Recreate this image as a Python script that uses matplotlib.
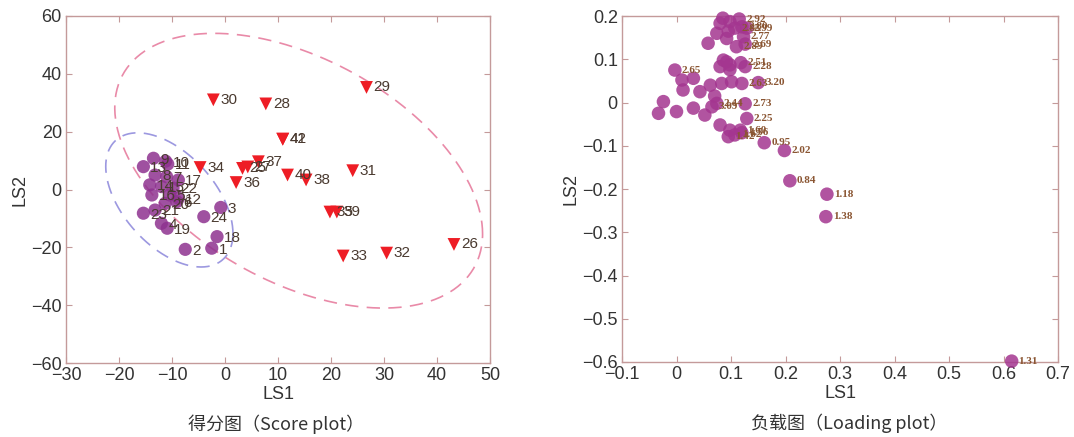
import numpy as np
import matplotlib
matplotlib.use('Agg')
import matplotlib.pyplot as plt
from matplotlib.ticker import FuncFormatter

plt.rcParams['font.family'] = ['Liberation Sans', 'Noto Sans CJK SC', 'DejaVu Sans']
plt.rcParams['axes.unicode_minus'] = True

# 得分图数据：样品 1-24（圆点）
score_c_lab = ['1', '2', '3', '4', '5', '6', '7', '8', '9', '10', '11', '12',
               '13', '14', '15', '16', '17', '18', '19', '20', '21', '22', '23', '24']
score_c_x = [-2.5, -7.5, -0.8, -12.0, -10.4, -9.1, -11.0, -13.2, -13.5, -11.2, -10.8, -8.8,
             -15.4, -14.2, -12.0, -13.8, -8.8, -1.5, -10.9, -11.3, -13.2, -9.8, -15.4, -4.0]
score_c_y = [-20.3, -20.7, -6.2, -11.7, -1.9, -4.2, 4.4, 5.0, 10.8, 9.8, 8.8, -3.0,
             7.9, 1.6, 1.0, -1.9, 3.3, -16.3, -13.4, -4.8, -7.1, 0.5, -8.2, -9.4]

# 得分图数据：样品 25-42（三角）
score_t_lab = ['25', '26', '27', '28', '29', '30', '31', '32', '33',
               '34', '35', '36', '37', '38', '39', '40', '41', '42']
score_t_x = [3.3, 43.2, 4.3, 7.7, 26.7, -2.2, 24.1, 30.5, 22.3,
             -4.7, 19.8, 2.1, 6.3, 15.3, 21.1, 11.8, 10.9, 10.9]
score_t_y = [7.3, -19.0, 7.8, 29.6, 35.3, 31.0, 6.5, -22.0, -23.0,
             7.6, -7.8, 2.4, 9.6, 3.3, -7.8, 5.0, 17.4, 17.4]

# 置信椭圆参数 (中心x, 中心y, 半宽, 半高, 相关系数)
ell_red = (13.9, 6.5, 34.7, 47.5, -0.46)
ell_blue = (-10.5, -3.6, 12.0, 23.2, -0.50)

# 负载图数据
load_x = [0.615, 0.274, 0.276, 0.208, 0.198, 0.161, 0.129, 0.126, 0.150, 0.120,
          0.101, 0.083, 0.126, 0.080, 0.092, 0.098, -0.003, 0.010, 0.031, 0.012,
          0.043, -0.024, -0.033, 0.000, 0.031, 0.052, 0.065, 0.074, 0.080, 0.098,
          0.107, 0.095, 0.117, 0.120, 0.080, 0.098, 0.107, 0.074, 0.058, 0.092,
          0.123, 0.110, 0.086, 0.098, 0.118, 0.115, 0.120, 0.095, 0.129, 0.085,
          0.126, 0.062, 0.070]
load_y = [-0.598, -0.264, -0.212, -0.181, -0.111, -0.093, -0.037, -0.003, 0.046, 0.044,
          0.048, 0.044, 0.083, 0.083, 0.094, 0.076, 0.075, 0.052, 0.056, 0.029,
          0.025, 0.002, -0.025, -0.021, -0.013, -0.029, -0.010, -0.002, -0.052, -0.064,
          -0.075, -0.079, -0.064, -0.070, 0.183, 0.187, 0.172, 0.160, 0.137, 0.148,
          0.152, 0.129, 0.098, 0.087, 0.092, 0.193, 0.175, 0.165, 0.172, 0.195,
          0.135, 0.040, 0.015]
load_lab = ['1.31', '1.38', '1.18', '0.84', '2.02', '0.95', '2.25', '2.73', '3.20', '2.63',
            '', '', '2.28', '', '', '', '2.65', '', '', '',
            '', '', '', '', '', '', '3.09', '2.44', '', '',
            '1.62', '1.42', '1.60', '1.56', '', '', '2.85', '', '', '',
            '2.77', '2.89', '', '', '2.51', '2.92', '2.80', '', '2.99', '',
            '2.69', '', '']

frame_col = '#c49a9a'
tick_col = '#333333'


def ellipse_xy(cx, cy, sx, sy, rho):
    t = np.linspace(0, 2 * np.pi, 300)
    x = cx + sx * np.cos(t)
    y = cy + sy * (rho * np.cos(t) + np.sqrt(1 - rho ** 2) * np.sin(t))
    return x, y


def style_axes(ax):
    for sp in ax.spines.values():
        sp.set_color(frame_col)
        sp.set_linewidth(1.0)
    ax.tick_params(direction='in', top=True, right=True, length=4,
                   color=frame_col, labelcolor=tick_col, labelsize=13, pad=3)


fig = plt.figure(figsize=(10.74, 4.37), dpi=100)

# ---- 得分图 ----
ax1 = fig.add_axes([66 / 1074, 1 - 363 / 437, 424 / 1074, 347 / 437])
ex, ey = ellipse_xy(*ell_red)
ax1.plot(ex, ey, color='#e98aa8', lw=1.2, dashes=(8, 5))
ex, ey = ellipse_xy(*ell_blue)
ax1.plot(ex, ey, color='#9c98e0', lw=1.2, dashes=(8, 5))

ax1.scatter(score_c_x, score_c_y, s=90, marker='o', color='#8e3290', alpha=0.85,
            edgecolors='none', zorder=3)
ax1.scatter(score_t_x, score_t_y, s=85, marker='v', color='#ee1d25',
            edgecolors='none', zorder=3)
for lab, x, y in zip(score_c_lab, score_c_x, score_c_y):
    ax1.annotate(lab, (x, y), xytext=(5, -1), textcoords='offset points',
                 va='center', ha='left', fontsize=11, color='#4a3a30', zorder=4)
for lab, x, y in zip(score_t_lab, score_t_x, score_t_y):
    ax1.annotate(lab, (x, y), xytext=(5, 0), textcoords='offset points',
                 va='center', ha='left', fontsize=11, color='#4a3a30', zorder=4)

ax1.set_xlim(-30, 50)
ax1.set_ylim(-60, 60)
ax1.set_xticks(np.arange(-30, 51, 10))
ax1.set_yticks(np.arange(-60, 61, 20))
style_axes(ax1)
ax1.set_xlabel('LS1', fontsize=13, color=tick_col, labelpad=1)
ax1.set_ylabel('LS2', fontsize=13, color=tick_col, labelpad=2)

# ---- 负载图 ----
ax2 = fig.add_axes([622 / 1074, 1 - 362 / 437, 436 / 1074, 346 / 437])
ax2.scatter(load_x, load_y, s=95, marker='o', color='#a43690', alpha=0.85,
            edgecolors='none', zorder=3, clip_on=False)
for lab, x, y in zip(load_lab, load_x, load_y):
    if lab:
        ax2.annotate(lab, (x, y), xytext=(5, 0), textcoords='offset points',
                     va='center', ha='left', fontsize=8, fontweight='bold',
                     family=['Liberation Serif', 'DejaVu Serif'], color='#8a5532',
                     zorder=4, annotation_clip=False)

ax2.set_xlim(-0.1, 0.7)
ax2.set_ylim(-0.6, 0.2)
ax2.set_xticks(np.arange(-0.1, 0.71, 0.1))
ax2.set_yticks(np.arange(-0.6, 0.21, 0.1))
fmt = FuncFormatter(lambda v, p: ('%g' % (round(v, 2) + 0.0)).replace('-', '\u2212'))
ax2.xaxis.set_major_formatter(fmt)
ax2.yaxis.set_major_formatter(fmt)
style_axes(ax2)
ax2.set_xlabel('LS1', fontsize=13, color=tick_col, labelpad=1)
ax2.set_ylabel('LS2', fontsize=13, color=tick_col, labelpad=2)

fig.text(276 / 1074, 1 - 424 / 437, '得分图（Score plot）', ha='center', va='center',
         fontsize=13, color='#333333', family=['Noto Sans CJK SC', 'DejaVu Sans'])
fig.text(849 / 1074, 1 - 423 / 437, '负载图（Loading plot）', ha='center', va='center',
         fontsize=13, color='#333333', family=['Noto Sans CJK SC', 'DejaVu Sans'])

fig.savefig('out.png', dpi=100)
